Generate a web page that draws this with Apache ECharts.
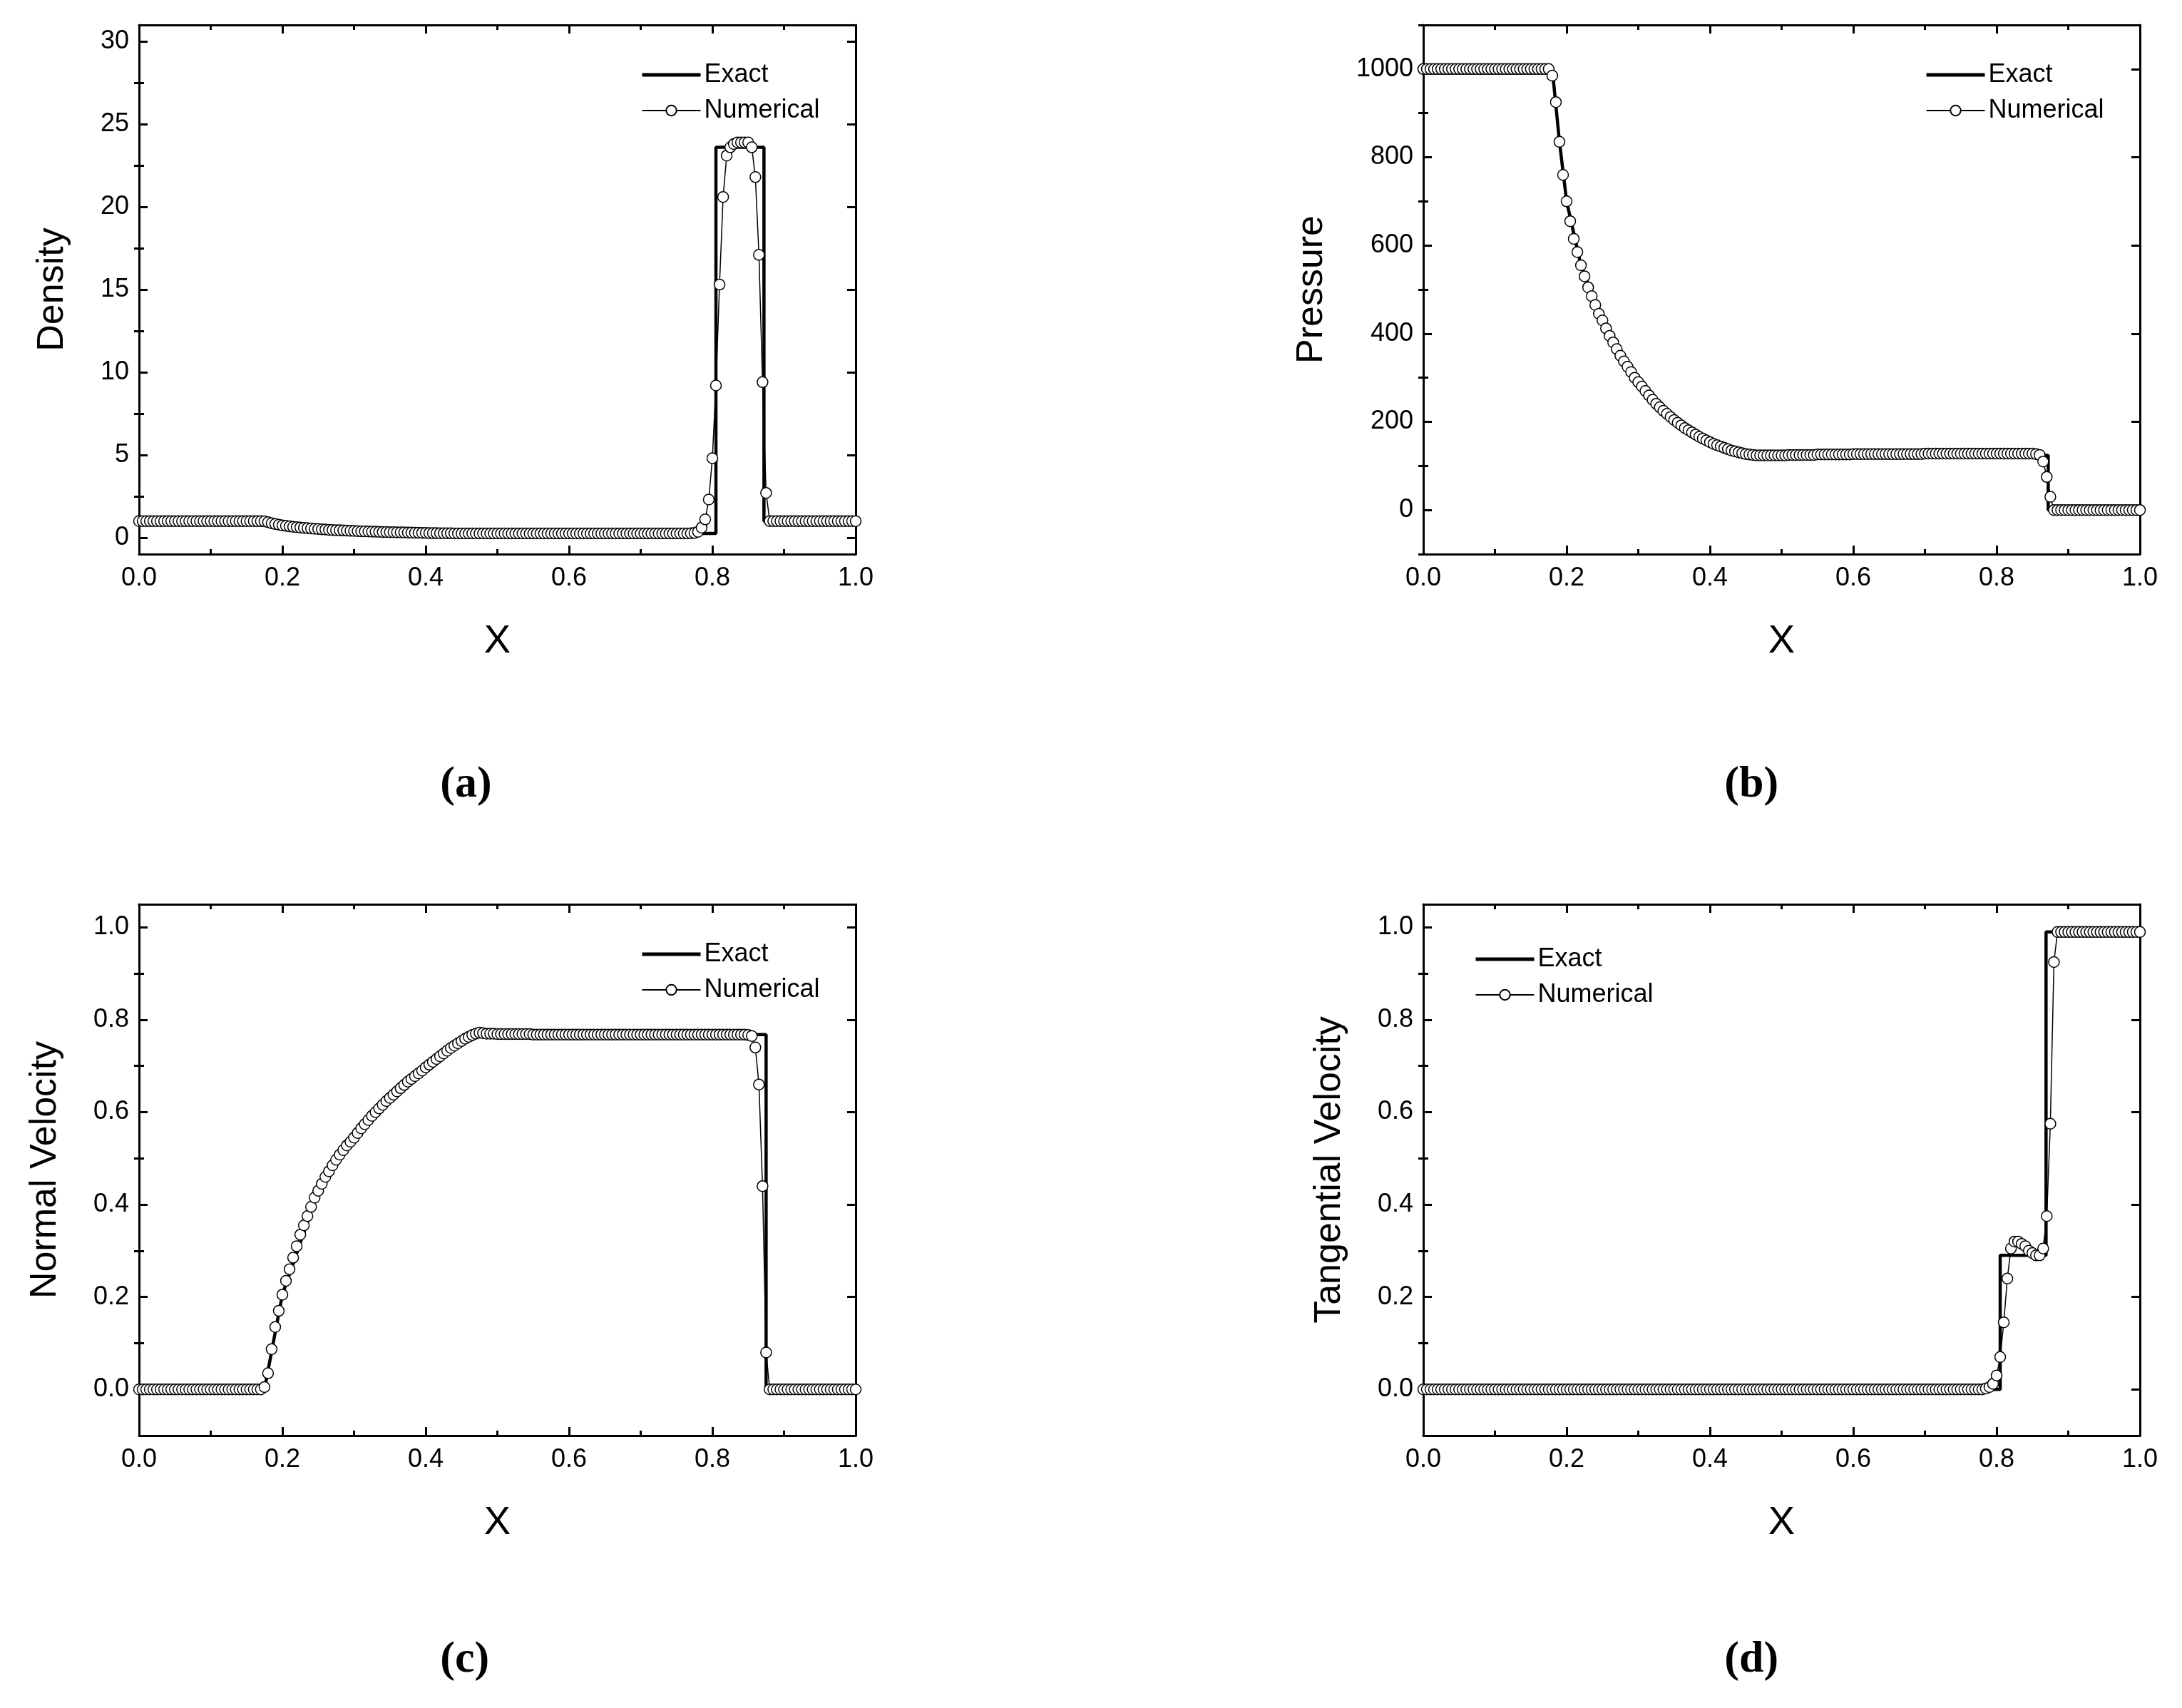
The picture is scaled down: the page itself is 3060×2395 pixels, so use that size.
<!DOCTYPE html>
<html><head><meta charset="utf-8">
<script src="https://cdn.jsdelivr.net/npm/echarts@6/dist/echarts.min.js"></script>
<style>html,body{margin:0;padding:0;background:#fff}#c{width:3060px;height:2395px}</style>
</head><body><div id="c"></div>
<script>
// grid x positions of numerical cells (0, 0.005, ..., 1.0)
const numX = [];
for (let i = 0; i <= 200; i++) numX.push(+(i * 0.005).toFixed(3));

const densityNum = [
1,1,1,1,1,1,1,1,1,1,
1,1,1,1,1,1,1,1,1,1,
1,1,1,1,1,1,1,1,1,1,
1,1,1,1,1,0.98,0.93,0.87,0.82,0.78,
0.74,0.71,0.68,0.65,0.63,0.61,0.59,0.57,0.55,0.53,
0.52,0.50,0.49,0.47,0.46,0.45,0.44,0.43,0.42,0.41,
0.40,0.39,0.38,0.375,0.37,0.36,0.355,0.35,0.34,0.335,
0.33,0.325,0.32,0.315,0.31,0.305,0.30,0.295,0.29,0.285,
0.28,0.275,0.27,0.268,0.265,0.262,0.26,0.258,0.256,0.254,
0.252,0.25,0.25,0.25,0.25,0.25,0.25,0.25,0.25,0.25,
0.25,0.25,0.25,0.25,0.25,0.25,0.25,0.25,0.25,0.25,
0.25,0.25,0.25,0.25,0.25,0.25,0.25,0.25,0.25,0.25,
0.25,0.25,0.25,0.25,0.25,0.25,0.25,0.25,0.25,0.25,
0.25,0.25,0.25,0.25,0.25,0.25,0.25,0.25,0.25,0.25,
0.25,0.25,0.25,0.25,0.25,0.25,0.25,0.25,0.25,0.25,
0.25,0.25,0.25,0.25,0.26,0.28,0.35,0.6,1.1,2.3,
4.8,9.2,15.3,20.6,23.1,23.6,23.8,23.9,23.9,23.9,
23.9,23.6,21.8,17.1,9.4,2.7,1.0,1,1,1,
1,1,1,1,1,1,1,1,1,1,
1,1,1,1,1,1,1,1,1,1,
1];
const densityExactX = [0,0.175,0.2,0.25,0.3,0.35,0.4,0.45,0.47,0.805,0.805,0.872,0.872,1];
const densityExactY = [1,1,0.74,0.52,0.40,0.33,0.28,0.255,0.25,0.25,23.6,23.6,1,1];

const pressureNum = [
1000,1000,1000,1000,1000,1000,1000,1000,1000,1000,
1000,1000,1000,1000,1000,1000,1000,1000,1000,1000,
1000,1000,1000,1000,1000,1000,1000,1000,1000,1000,
1000,1000,1000,1000,1000,1000,985,925,835,760,
700,655,615,585,555,530,505,485,465,445,
430,412,395,380,365,350,337,325,313,300,
290,280,270,260,250,241,233,225,218,211,
204,198,192,186,181,176,171,166,162,158,
154,150,147,144,141,138,135,133,131,129,
127,126,125,124,124,124,124,124,124,124,
124,124,125,125,125,125,125,125,125,125,
126,126,126,126,126,126,126,126,126,126,
127,127,127,127,127,127,127,127,127,127,
127,127,127,127,127,127,127,127,127,127,
128,128,128,128,128,128,128,128,128,128,
128,128,128,128,128,128,128,128,128,128,
128,128,128,128,128,128,128,128,128,128,
128,127,125,110,75,30,0,0,0,0,
0,0,0,0,0,0,0,0,0,0,
0,0,0,0,0,0,0,0,0,0,
0];
const pressureExactX = [0,0.18,0.19,0.2,0.22,0.25,0.3,0.35,0.4,0.45,0.47,0.872,0.872,1];
const pressureExactY = [1000,1000,835,700,555,430,290,204,154,127,124,124,0,0];

const normalNum = [
0,0,0,0,0,0,0,0,0,0,
0,0,0,0,0,0,0,0,0,0,
0,0,0,0,0,0,0,0,0,0,
0,0,0,0,0,0.005,0.035,0.087,0.135,0.17,
0.205,0.235,0.26,0.285,0.31,0.335,0.355,0.375,0.395,0.415,
0.43,0.445,0.46,0.472,0.485,0.497,0.508,0.518,0.528,0.536,
0.545,0.555,0.565,0.574,0.583,0.592,0.6,0.608,0.616,0.624,
0.631,0.638,0.645,0.652,0.659,0.666,0.672,0.678,0.684,0.69,
0.697,0.703,0.709,0.715,0.721,0.727,0.733,0.739,0.744,0.749,
0.754,0.759,0.763,0.767,0.77,0.772,0.771,0.77,0.77,0.77,
0.769,0.769,0.769,0.769,0.769,0.769,0.769,0.769,0.769,0.769,
0.768,0.768,0.768,0.768,0.768,0.768,0.768,0.768,0.768,0.768,
0.768,0.768,0.768,0.768,0.768,0.768,0.768,0.768,0.768,0.768,
0.768,0.768,0.768,0.768,0.768,0.768,0.768,0.768,0.768,0.768,
0.768,0.768,0.768,0.768,0.768,0.768,0.768,0.768,0.768,0.768,
0.768,0.768,0.768,0.768,0.768,0.768,0.768,0.768,0.768,0.768,
0.768,0.768,0.768,0.768,0.768,0.768,0.768,0.768,0.768,0.768,
0.767,0.765,0.74,0.66,0.44,0.08,0,0,0,0,
0,0,0,0,0,0,0,0,0,0,
0,0,0,0,0,0,0,0,0,0,
0];
const normalExactX = [0,0.175,0.2,0.25,0.3,0.35,0.4,0.45,0.47,0.875,0.875,1];
const normalExactY = [0,0,0.205,0.43,0.545,0.631,0.697,0.754,0.77,0.768,0,0];

const tangNum = [
0,0,0,0,0,0,0,0,0,0,
0,0,0,0,0,0,0,0,0,0,
0,0,0,0,0,0,0,0,0,0,
0,0,0,0,0,0,0,0,0,0,
0,0,0,0,0,0,0,0,0,0,
0,0,0,0,0,0,0,0,0,0,
0,0,0,0,0,0,0,0,0,0,
0,0,0,0,0,0,0,0,0,0,
0,0,0,0,0,0,0,0,0,0,
0,0,0,0,0,0,0,0,0,0,
0,0,0,0,0,0,0,0,0,0,
0,0,0,0,0,0,0,0,0,0,
0,0,0,0,0,0,0,0,0,0,
0,0,0,0,0,0,0,0,0,0,
0,0,0,0,0,0,0,0,0,0,
0,0,0,0,0,0,0,0.002,0.005,0.012,
0.03,0.07,0.145,0.24,0.305,0.32,0.32,0.315,0.31,0.30,
0.295,0.29,0.29,0.305,0.375,0.575,0.925,0.99,0.99,0.99,
0.99,0.99,0.99,0.99,0.99,0.99,0.99,0.99,0.99,0.99,
0.99,0.99,0.99,0.99,0.99,0.99,0.99,0.99,0.99,0.99,
0.99];
const tangExactX = [0,0.805,0.805,0.869,0.869,1];
const tangExactY = [0,0,0.29,0.29,0.99,0.99];

const panels = [
  {name:'Density', yMin:-1, yMax:31, major:[0,5,10,15,20,25,30], minor:[2.5,7.5,12.5,17.5,22.5,27.5], dec:0,
   num:densityNum, ex:densityExactX, ey:densityExactY, caption:'(a)'},
  {name:'Pressure', yMin:-100, yMax:1100, major:[0,200,400,600,800,1000], minor:[-100,100,300,500,700,900,1100], dec:0,
   num:pressureNum, ex:pressureExactX, ey:pressureExactY, caption:'(b)'},
  {name:'Normal Velocity', yMin:-0.1, yMax:1.05, major:[0,0.2,0.4,0.6,0.8,1.0], minor:[0.1,0.3,0.5,0.7,0.9], dec:1,
   num:normalNum, ex:normalExactX, ey:normalExactY, caption:'(c)'},
  {name:'Tangential Velocity', yMin:-0.1, yMax:1.05, major:[0,0.2,0.4,0.6,0.8,1.0], minor:[0.1,0.3,0.5,0.7,0.9], dec:1,
   num:tangNum, ex:tangExactX, ey:tangExactY, caption:'(d)'}
];

const FONT = '"Liberation Sans Narrow","Liberation Sans",Arial,sans-serif';
const gridPos = [
  {left:195, top:35, width:1005, height:742},
  {left:1996, top:35, width:1005, height:742},
  {left:195, top:1268, width:1005, height:745},
  {left:1996, top:1268, width:1005, height:745}
];
const nameGaps = [95, 130, 105, 105];
const legendPos = [
  {left:893, top:82}, {left:2694, top:82}, {left:893, top:1315}, {left:2062, top:1322}
];

const grid=[], xAxis=[], yAxis=[], series=[], legend=[], graphic=[];
const lineStyle = {color:'#000', width:3};
panels.forEach((p, g) => {
  grid.push(Object.assign({containLabel:false}, gridPos[g]));
  const xi = xAxis.length;
  xAxis.push({type:'value', gridIndex:g, min:0, max:1, interval:0.2, position:'bottom',
    name:'X', nameLocation:'middle', nameGap:95, nameTextStyle:{fontFamily:'Liberation Sans',fontSize:56,color:'#000'},
    axisLine:{show:true,onZero:false,lineStyle}, axisTick:{inside:true,length:12,lineStyle},
    minorTick:{show:true,splitNumber:2,length:7,lineStyle:{color:'#000',width:3}},
    axisLabel:{fontFamily:FONT,fontSize:36,color:'#000',margin:16,formatter:v=>v.toFixed(1)},
    splitLine:{show:false}});
  xAxis.push({type:'value', gridIndex:g, min:0, max:1, interval:0.2, position:'top',
    axisLine:{show:true,onZero:false,lineStyle}, axisTick:{inside:true,length:12,lineStyle},
    minorTick:{show:true,splitNumber:2,length:7,lineStyle:{color:'#000',width:3}},
    axisLabel:{show:false}, splitLine:{show:false}});
  const yi = yAxis.length;
  const base = {type:'value', gridIndex:g, min:p.yMin, max:p.yMax, splitLine:{show:false}};
  yAxis.push(Object.assign({}, base, {position:'left',
    name:p.name, nameLocation:'middle', nameGap:nameGaps[g], nameRotate:90,
    nameTextStyle:{fontFamily:'Liberation Sans',fontSize:52,color:'#000'},
    axisLine:{show:true,onZero:false,lineStyle},
    axisTick:{inside:true,length:12,lineStyle,customValues:p.major},
    axisLabel:{fontFamily:FONT,fontSize:36,color:'#000',margin:14,customValues:p.major,formatter:v=>(+v).toFixed(p.dec)}}));
  yAxis.push(Object.assign({}, base, {position:'left',
    axisLine:{show:false}, axisTick:{inside:true,length:7,lineStyle,customValues:p.minor},
    axisLabel:{show:false,customValues:p.minor}}));
  yAxis.push(Object.assign({}, base, {position:'right',
    axisLine:{show:true,onZero:false,lineStyle},
    axisTick:{inside:true,length:12,lineStyle,customValues:p.major},
    axisLabel:{show:false,customValues:p.major}}));
  yAxis.push(Object.assign({}, base, {position:'right',
    axisLine:{show:false}, axisTick:{inside:true,length:7,lineStyle,customValues:p.minor},
    axisLabel:{show:false,customValues:p.minor}}));
  series.push({type:'line', name:'Exact', xAxisIndex:xi, yAxisIndex:yi, symbol:'none',
    lineStyle:{color:'#000',width:4.5}, itemStyle:{color:'#000'}, animation:false, z:2,
    data:p.ex.map((x,i)=>[x,p.ey[i]])});
  series.push({type:'line', name:'Numerical', xAxisIndex:xi, yAxisIndex:yi, symbol:'circle', symbolSize:15,
    lineStyle:{color:'#000',width:1.5}, itemStyle:{color:'#fff',borderColor:'#000',borderWidth:1.5},
    animation:false, z:3, data:numX.map((x,i)=>[x,p.num[i]])});
  legend.push(Object.assign({orient:'vertical', itemWidth:82, itemHeight:18, itemGap:14,
    textStyle:{fontFamily:'Liberation Sans',fontSize:36,color:'#000'}, selectedMode:false,
    data:[{name:'Exact', itemStyle:{opacity:0}, lineStyle:{width:5}}, {name:'Numerical', lineStyle:{width:2}}]}, legendPos[g]));
  const gp = gridPos[g];
  graphic.push({type:'text', left:gp.left + gp.width*0.455 - 35, top: g<2 ? 1070 : 2297,
    style:{text:p.caption, font:'bold 62px "Liberation Serif","DejaVu Serif",serif', fill:'#000'}});
});

const chart = echarts.init(document.getElementById('c'), null, {renderer:'canvas'});
chart.setOption({backgroundColor:'#fff', animation:false, grid, xAxis, yAxis, series, legend, graphic});
</script></body></html>
